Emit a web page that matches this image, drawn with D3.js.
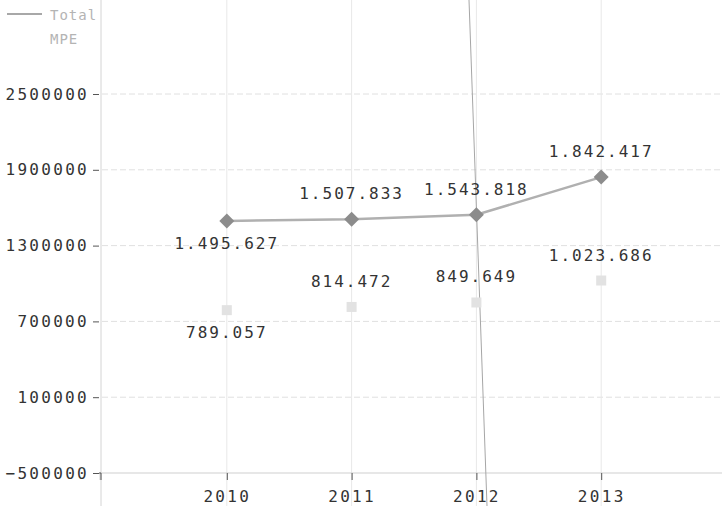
<!DOCTYPE html>
<head>
  <meta charset="utf-8">
  <script src="https://cdnjs.cloudflare.com/ajax/libs/d3/7.8.5/d3.min.js"></script>
  <style>
    body { margin:0; background:#fff; }
    svg { display:block; }
    text { font-family: "DejaVu Sans Mono", monospace; }
  </style>
</head>

<body>
  <script>
    // chart values
    var years = [2010, 2011, 2012, 2013];
    var total = [1495627, 1507833, 1543818, 1842417];
    var mpe = [789057, 814472, 849649, 1023686];
    var yTicks = [-500000, 100000, 700000, 1300000, 1900000, 2500000];
    var seriesNames = ["Total", "MPE"];

    var width = 722, height = 506;
    var svg = d3.select("body").append("svg")
      .attr("width", width)
      .attr("height", height);

    var x = d3.scaleLinear().domain([2009, 2014]).range([102, 726]);
    var y = d3.scaleLinear().domain([-500000, 2500000]).range([473, 94]);

    // dots for thousands, like the original
    var loc = d3.formatLocale({decimal: ",", thousands: ".", grouping: [3], currency: ["", ""]});
    var fmt = loc.format(",d");

    // grid
    svg.append("g").selectAll("line").data(yTicks.slice(1)).enter().append("line")
      .attr("x1", 102).attr("x2", width)
      .attr("y1", function(d){ return y(d); }).attr("y2", function(d){ return y(d); })
      .style("stroke", "#e0e0e0").style("stroke-dasharray", "6,3");
    svg.append("g").selectAll("line").data(years).enter().append("line")
      .attr("x1", function(d){ return x(d); }).attr("x2", function(d){ return x(d); })
      .attr("y1", 0).attr("y2", height)
      .style("stroke", "#e8e8e8");
    // y axis line runs the full height
    svg.append("line")
      .attr("x1", 101).attr("x2", 101).attr("y1", 0).attr("y2", height)
      .style("stroke", "#d4d4d4");

    // axes
    var yAxis = svg.append("g")
      .attr("transform", "translate(99,0)")
      .call(d3.axisLeft(y).tickValues(yTicks).tickFormat(d3.format("d")).tickSize(6).tickSizeOuter(0).tickPadding(4));
    var xAxis = svg.append("g")
      .attr("transform", "translate(0," + y(-500000) + ")")
      .call(d3.axisBottom(x).tickValues(years).tickFormat(d3.format("d")).tickSize(7).tickPadding(8));
    [yAxis, xAxis].forEach(function(a){
      a.selectAll(".tick line").style("stroke", "#555");
      a.selectAll(".tick text")
        .style("font-size", "16px").style("letter-spacing", "2.3px").style("fill", "#333");
    });
    yAxis.select(".domain").remove();
    // corner tick at the start of the x axis
    xAxis.select(".domain").attr("d", "M100,7V0H722").style("stroke", "#cfcfcf");
    xAxis.select(".domain").clone().attr("d", "M99,0H101V7").style("stroke", "#555");
    xAxis.selectAll(".tick text").attr("dy", "0.85em");

    // scan crease line in the original
    svg.append("line")
      .attr("x1", 469).attr("y1", 0).attr("x2", 487).attr("y2", height)
      .style("stroke", "#a6a6a6").style("stroke-width", 1);

    // Total series
    var totalData = years.map(function(yr, i){ return {year: yr, v: total[i], i: i}; });
    var mpeData = years.map(function(yr, i){ return {year: yr, v: mpe[i], i: i}; });

    var line = d3.line().x(function(d){ return x(d.year); }).y(function(d){ return y(d.v); });
    svg.append("path").datum(totalData)
      .attr("d", line)
      .style("fill", "none").style("stroke", "#b0b0b0").style("stroke-width", 2.5);

    svg.append("g").selectAll("path").data(totalData).enter().append("path")
      .attr("transform", function(d){ return "translate(" + x(d.year) + "," + y(d.v) + ")"; })
      .attr("d", "M0,-7.5L7.5,0L0,7.5L-7.5,0Z")
      .style("fill", "#8c8c8c");

    // MPE series
    svg.append("g").selectAll("rect").data(mpeData).enter().append("rect")
      .attr("x", function(d){ return x(d.year) - 5; })
      .attr("y", function(d){ return y(d.v) - 5; })
      .attr("width", 10).attr("height", 10)
      .style("fill", "#e2e2e2");

    // value labels: first point below, rest above
    function labels(data) {
      svg.append("g").selectAll("text").data(data).enter().append("text")
        .attr("x", function(d){ return x(d.year); })
        .attr("y", function(d){ return y(d.v) + (d.i === 0 ? 28 : -20); })
        .attr("text-anchor", "middle")
        .style("font-size", "16px").style("letter-spacing", "2px").style("fill", "#333")
        .text(function(d){ return fmt(d.v); });
    }
    labels(totalData);
    labels(mpeData);

    // legend
    var legend = svg.append("g");
    legend.append("line").attr("x1", 7).attr("x2", 42).attr("y1", 14).attr("y2", 14)
      .style("stroke", "#a8a8a8").style("stroke-width", 2);
    legend.selectAll("text").data(seriesNames).enter().append("text")
      .attr("x", 50).attr("y", function(d, i){ return 20 + i * 24; })
      .style("font-size", "14px").style("letter-spacing", "1px").style("fill", "#b4b4b4")
      .text(function(d){ return d; });
  </script>
</body>
